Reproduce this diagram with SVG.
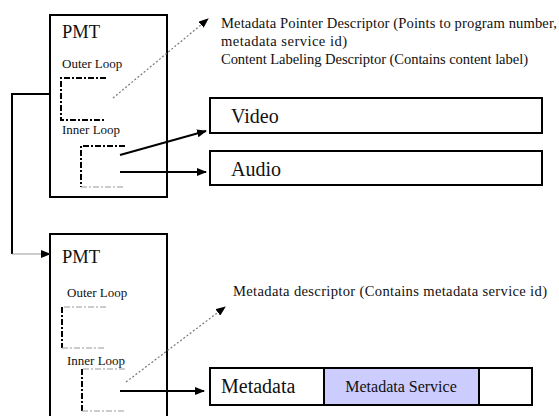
<svg xmlns="http://www.w3.org/2000/svg" width="559" height="416" viewBox="0 0 559 416">
<style>
text{font-family:"Liberation Serif","Times New Roman",serif;fill:#111}
.box{fill:#fff;stroke:#000;stroke-width:2}
.loop{fill:none;stroke:#000;stroke-width:2;stroke-dasharray:6,2,2,2}
.loopg{fill:none;stroke:#999;stroke-width:1;stroke-dasharray:6,2,2,2}
.dot{fill:none;stroke:#777;stroke-width:1.2;stroke-dasharray:2,2}
.arr{stroke:#000;stroke-width:2;fill:none}
.big{font-size:20px}
.pmt{font-size:18.5px}
.small{font-size:13px}
.desc{font-size:14.6px}
</style>
<defs>
<marker id="ah" markerUnits="userSpaceOnUse" markerWidth="10" markerHeight="8" refX="9" refY="4" orient="auto">
<path d="M0,0 L10,4 L0,8 Z" fill="#000"/>
</marker>
</defs>
<g id="pmt1">
<rect class="box" x="50" y="15" width="117" height="182"/>
<text class="pmt" x="62" y="38">PMT</text>
<text class="small" x="62" y="68">Outer Loop</text>
<path class="loop" d="M106,78 H61 V120 H106"/>
<text class="small" x="62" y="134">Inner Loop</text>
<path class="loop" d="M125,146 H81 V187"/>
<path class="loopg" d="M81,187 H125"/>
</g>
<g id="pmt2">
<path class="box" d="M50,416 V234 H167 V416" fill="none"/>
<text class="pmt" x="62" y="263">PMT</text>
<text class="small" x="67" y="297">Outer Loop</text>
<path class="loopg" d="M106,307 H62"/>
<path class="loop" d="M62,307 V348"/>
<path class="loopg" d="M62,348 H104"/>
<text class="small" x="67" y="365">Inner Loop</text>
<path class="loopg" d="M125,369 H82"/>
<path class="loop" d="M82,369 V411"/>
<path class="loopg" d="M82,411 H125"/>
</g>
<g id="video">
<rect class="box" x="210" y="98" width="332" height="35"/>
<text class="big" x="231" y="123">Video</text>
</g>
<g id="audio">
<rect class="box" x="210" y="151" width="332" height="34"/>
<text class="big" x="231" y="176">Audio</text>
</g>
<g id="metadata">
<rect class="box" x="210" y="368" width="322" height="37"/>
<rect x="324" y="368" width="155" height="37" fill="#ccccff" stroke="#000" stroke-width="2"/>
<text class="big" x="221" y="393">Metadata</text>
<text x="401" y="392" font-size="16" text-anchor="middle">Metadata Service</text>
</g>
<g id="desc1">
<text class="desc" x="221" y="28" textLength="336" lengthAdjust="spacing">Metadata Pointer Descriptor (Points to program number,</text>
<text class="desc" x="221" y="46" textLength="126" lengthAdjust="spacing">metadata service id)</text>
<text class="desc" x="221" y="64" textLength="307" lengthAdjust="spacing">Content Labeling Descriptor (Contains content label)</text>
</g>
<g id="desc2">
<text class="desc" x="233" y="296" textLength="314" lengthAdjust="spacing">Metadata descriptor (Contains metadata service id)</text>
</g>
<g id="connectors">
<path class="arr" d="M50,94 H12 V254"/>
<line x1="12" y1="254" x2="50" y2="254" stroke="#999" stroke-width="1" marker-end="url(#ah)"/>
<line class="dot" x1="113" y1="98" x2="208" y2="19" marker-end="url(#ah)"/>
<line class="arr" x1="120" y1="155" x2="206" y2="131" marker-end="url(#ah)"/>
<line class="arr" x1="120" y1="172" x2="206" y2="172" marker-end="url(#ah)"/>
<line class="dot" x1="126" y1="382" x2="225" y2="307" marker-end="url(#ah)"/>
<line class="arr" x1="120" y1="391" x2="204" y2="391" marker-end="url(#ah)"/>
</g>
</svg>
